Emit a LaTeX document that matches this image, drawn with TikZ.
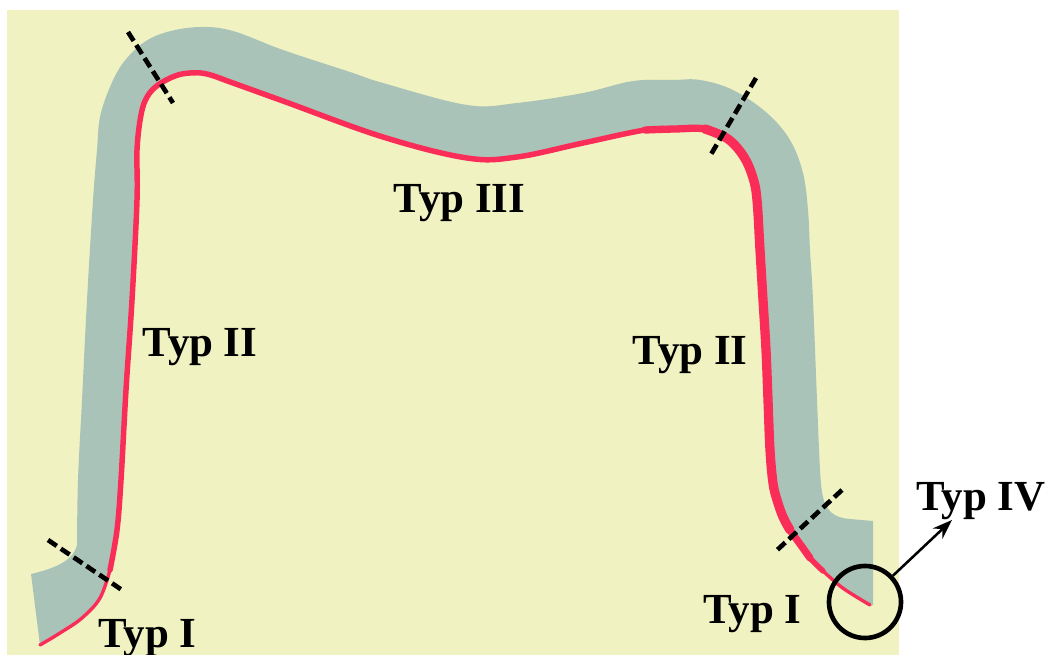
\documentclass[tikz,border=0pt]{standalone}
\usepackage{fontspec}
\setmainfont{Liberation Serif}
\usetikzlibrary{arrows.meta}
\definecolor{bgyellow}{RGB}{240,242,193}
\definecolor{bandgray}{RGB}{170,195,184}
\definecolor{edgered}{RGB}{250,45,88}
\tikzset{
  band/.style={fill=bandgray},
  redline/.style={draw=edgered, line width=3.9pt, line cap=round, line join=round},
  redmid/.style={draw=edgered, line width=5.2pt, line cap=round, line join=round},
  redthick/.style={draw=edgered, line width=6.6pt, line cap=round, line join=round},
  redthin/.style={draw=edgered, line width=2.4pt, line cap=round, line join=round},
  cutline/.style={draw=black, line width=3.3pt, dash pattern=on 7.5pt off 3.5pt},
  lbl/.style={font=\fontsize{30.5}{36}\selectfont\bfseries, inner sep=0pt, anchor=base},
  ring/.style={circle, draw=black, line width=3.3pt, minimum size=1.8cm, inner sep=0pt},
  pointer/.style={draw=black, line width=1.8pt, -{Stealth[length=14pt,width=10pt]}}
}
\begin{document}
\begin{tikzpicture}[x=0.025cm,y=-0.025cm]
\useasboundingbox (0,0) rectangle (1050,655);
\fill[white] (0,0) rectangle (1050,655);
\fill[bgyellow] (7,10) rectangle (899,655);
% gray band
\fill[band] (40,645) -- (31,574) .. controls (52,569) and (73,562) .. (77,545)
 -- plot[smooth, tension=0.6] coordinates {(77,545) (78,480) (82,400) (87,300) (93,200) (97,150) (100,117) (110,87) (123,63) (143,43) (167,32) (200,27) (233,31) (283,50) (350,72) (383,83) (467,105) (517,103) (583,93) (633,81) (673,80) (700,80) (733,90) (767,113) (790,140) (803,173) (808,210) (810,250) (813,300) (817,400) (820,470) (822,492)}
 .. controls (825,512) and (835,518) .. (850,519) -- (873,521) -- (873,605) -- (870,605)
 -- plot[smooth, tension=0.6] coordinates {(870,605) (855,596) (840,586) (823,571) (810,558) (800,544) (790,530) (783,517) (777,500) (773,483) (770,450) (768,400) (766,350) (763,300) (760,250) (757,200) (753,178) (744,157) (728,139) (705,129) (675,129) (645,130) (583,143) (517,157) (467,158) (383,137) (283,101) (233,83) (207,74) (190,73) (175,76) (158,85) (147,97) (141,115) (137,150) (137,200) (132,300) (126,390) (121,480) (117,530) (110,570) (100,598) (82,618) (60,633) (40,645)} -- cycle;
% red inner edge
\draw[redline] plot[smooth, tension=0.6] coordinates {(823,571) (810,558) (800,544) (790,530) (783,517) (777,500) (773,483) (770,450) (768,400) (766,350) (763,300) (760,250) (757,200) (753,178) (744,157) (728,139) (705,129) (675,129) (645,130) (583,143) (517,157) (467,158) (383,137) (283,101) (233,83) (207,74) (190,73) (175,76) (158,85) (147,97) (141,115) (137,150) (137,200) (132,300) (126,390) (121,480) (117,530) (110,570)};
\draw[redmid] plot[smooth, tension=0.6] coordinates {(810,558) (800,544) (790,530) (783,517) (777,500) (773,483) (770,450) (768,400) (766,350) (763,300) (760,250) (757,200) (753,178) (744,157) (728,139) (705,129) (675,129) (645,130)};
\draw[redthick] plot[smooth, tension=0.6] coordinates {(790,530) (783,517) (777,500) (773,483) (770,450) (768,400) (766,350) (763,300) (760,250) (757,200) (753,178) (744,157) (728,139) (705,129)};
\draw[redthin] plot[smooth, tension=0.6] coordinates {(823,571) (840,586) (855,596) (870,605)};
\draw[redthin] plot[smooth, tension=0.6] coordinates {(110,570) (100,598) (82,618) (60,633) (40,645)};
% cut marks
\coordinate (c1a) at (128,32);  \coordinate (c1b) at (173,103);
\coordinate (c2a) at (756,78);  \coordinate (c2b) at (710,156);
\coordinate (c3a) at (48,540);  \coordinate (c3b) at (122,590);
\coordinate (c4a) at (842,490); \coordinate (c4b) at (775,552);
\draw[cutline] (c1a) -- (c1b);
\draw[cutline] (c2a) -- (c2b);
\draw[cutline] (c3a) -- (c3b);
\draw[cutline] (c4a) -- (c4b);
% labels
\node[lbl] (t3) at (459.5,213) {Typ III};
\node[lbl] (t2l) at (200,356) {Typ II};
\node[lbl] (t2r) at (690,364) {Typ II};
\node[lbl] (t1l) at (147.5,647) {Typ I};
\node[lbl] (t1r) at (752.5,623) {Typ I};
\node[lbl] (t4) at (981,510) {Typ IV};
% circle and arrow
\node[ring] (ring4) at (865,602) {};
\coordinate (a4) at (952,520);
\draw[pointer] (ring4) -- (a4);
\end{tikzpicture}
\end{document}
